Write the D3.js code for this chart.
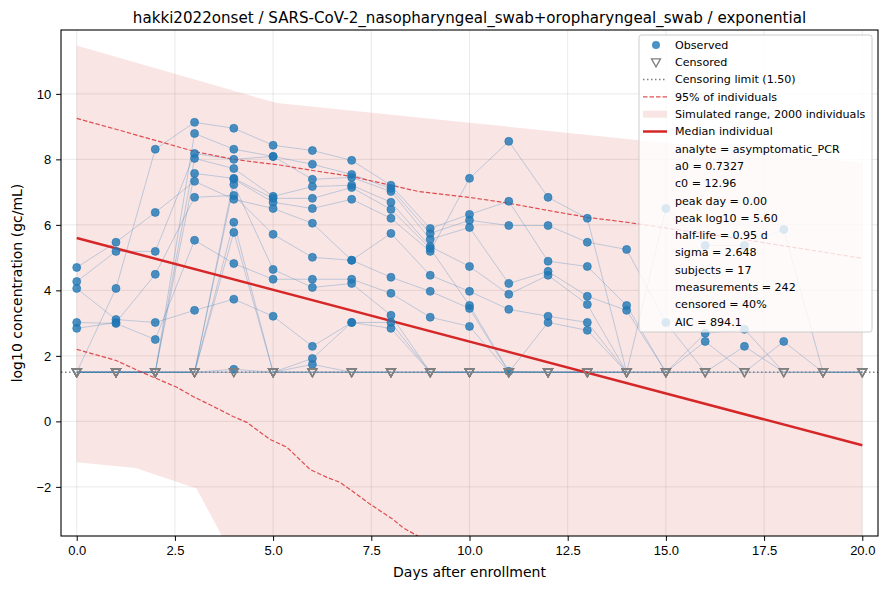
<!DOCTYPE html>
<html>
<head>
<meta charset="utf-8">
<script src="https://cdn.jsdelivr.net/npm/d3@7"></script>
<style>
  body { margin: 0; background: #fff; }
  svg { font-family: "DejaVu Sans", sans-serif; }
  .axis text { font-size: 13px; fill: #000; }
  .axis path, .axis line { stroke: #000; }
</style>
</head>
<body>
<svg id="chart"></svg>
<script>
/***** Données *****/
var chartTitle = "hakki2022onset / SARS-CoV-2_nasopharyngeal_swab+oropharyngeal_swab / exponential";
var xLabel = "Days after enrollment";
var yLabel = "log10 concentration (gc/mL)";

var days = [0, 1, 2, 3, 4, 5, 6, 7, 8, 9, 10, 11, 12, 13, 14, 15, 16, 17, 18, 19, 20];
var xTicks = [0, 2.5, 5, 7.5, 10, 12.5, 15, 17.5, 20];
var yTicks = [-2, 0, 2, 4, 6, 8, 10];
var censoringLimit = 1.5;

// c = censored (< limite), _ = pas de mesure
var c = "censored", _ = null;
var subjects = [
  [4.70, 5.47, 6.38, 7.33, 6.78, 6.50, 6.05, 4.92, 5.74, 4.46, 3.97, 3.42, 3.21, 3.02, c, c, c, _, _, _, _],
  [4.27, 5.19, 5.19, 8.18, 8.00, 8.09, 7.39, 7.45, 7.02, 5.56, 5.92, 4.21, 4.58, 3.82, 3.39, c, 2.44, c, 2.44, c, c],
  [4.06, 3.11, 3.02, 3.39, 3.73, 3.21, 2.29, 3.02, 2.84, c, c, c, c, c, _, _, _, _, _, _, _],
  [3.02, 2.99, 2.50, 5.53, 4.82, 4.34, 4.34, 4.34, 3.91, 3.18, 2.90, c, c, c, c, _, _, _, _, _, _],
  [2.84, 3.02, 4.49, 6.84, 6.90, 5.71, 5.01, 4.92, 4.40, 3.97, 3.45, c, 3.02, 2.78, c, c, _, _, _, _, _],
  [c, 4.06, 8.31, 9.13, 8.95, 8.43, 8.27, 7.97, 7.21, 5.89, 6.32, 6.72, 4.89, 4.73, 3.54, c, 2.69, 2.81, c, c, c],
  [c, c, c, 8.79, 8.31, 8.09, 7.85, 7.54, 7.11, 5.74, 6.14, 5.98, 5.98, 5.47, 5.25, 3.02, c, 2.29, c, c, c],
  [c, c, c, 8.03, 7.72, 6.87, 7.17, 7.21, 6.69, 5.34, 4.73, 3.88, 4.46, 3.57, c, c, c, c, _, _, _],
  [c, c, c, 7.57, 7.42, 6.81, 6.81, 7.14, 6.47, 5.28, 3.54, 1.53, c, c, c, _, _, _, _, _, _],
  [c, c, c, c, 7.39, 6.69, 6.50, 6.78, 6.20, 5.19, 7.42, 8.55, 6.84, 6.20, c, 6.50, 5.37, 5.37, 5.86, c, c],
  [c, c, c, c, 7.23, 4.64, 4.09, 4.21, 3.24, c, c, c, c, c, _, _, _, _, _, _, _],
  [c, c, c, c, 6.08, c, 1.92, 3.02, 3.02, c, c, c, c, c, c, _, _, _, _, _, _],
  [c, c, c, c, 5.77, c, 1.74, c, c, c, c, c, _, _, _, _, _, _, _, _, _],
  [c, c, c, c, 1.59, c, c, c, c, c, c, c, c, c, c, _, _, _, _, _, _],
  [c, c, c, c, c, c, c, c, c, c, c, _, _, _, _, _, _, _, _, _, _],
  [_, _, _, _, _, c, c, c, c, c, c, c, c, c, c, c, c, c, c, c, c],
  [c, c, c, c, c, c, c, c, c, _, _, _, _, _, _, _, _, _, _, _, _]
];

// Enveloppe simulée (2000 individus)
var bandDays = [0, 1.5, 3.05, 4.5, 5.1, 10, 15, 20];
var bandUpper = [11.48, 10.96, 10.42, 9.92, 9.72, 9.12, 8.50, 7.90];
var bandLower = [-1.25, -1.42, -2.05, -5.3, -6.0, -8.0, -9.0, -10.0];

// 95 % des individus
var upperDays = [0, 1, 2, 3, 4, 5.2, 6, 7, 8, 8.7, 10, 11, 12, 13, 14, 17, 20];
var upperValues = [9.25, 8.92, 8.58, 8.24, 8.00, 7.82, 7.66, 7.48, 7.21, 7.02, 6.84, 6.66, 6.44, 6.23, 6.08, 5.55, 4.98];
var lowerDays = [0, 1, 1.6, 2.55, 2.96, 3.47, 3.98, 4.33, 4.92, 5.35, 5.94, 6.37, 6.7, 7.03, 7.47, 8.05, 8.3, 8.68, 9.5, 12];
var lowerValues = [2.20, 1.86, 1.53, 1.04, 0.76, 0.46, 0.15, -0.03, -0.55, -0.79, -1.47, -1.71, -1.86, -2.14, -2.53, -2.99, -3.24, -3.50, -3.9, -5.0];

// Individu médian
var medianDays = [0, 20];
var medianValues = [5.60, -0.73];

var legendLabels = ["Observed", "Censored", "Censoring limit (1.50)", "95% of individuals",
  "Simulated range, 2000 individuals", "Median individual"];
var statLines = ["analyte = asymptomatic_PCR", "a0 = 0.7327", "c0 = 12.96", "peak day = 0.00",
  "peak log10 = 5.60", "half-life = 0.95 d", "sigma = 2.648", "subjects = 17",
  "measurements = 242", "censored = 40%", "AIC = 894.1"];

/***** Configuration *****/
var width = 887, height = 590;
var margin = { top: 30, right: 9, bottom: 54, left: 61 };
var plotWidth = width - margin.left - margin.right;
var plotHeight = height - margin.top - margin.bottom;

var x = d3.scaleLinear().domain([-0.4, 20.4]).range([0, plotWidth]);
var y = d3.scaleLinear().domain([-3.5, 11.95]).range([plotHeight, 0]);

var red = "#d62728", blue = "#1f77b4", gray = "#808080";

var svg = d3.select("#chart").attr("width", width).attr("height", height);

svg.append("text")
  .attr("x", margin.left + plotWidth / 2)
  .attr("y", 22.5)
  .attr("text-anchor", "middle")
  .style("font-size", "15.1px")
  .text(chartTitle);

var g = svg.append("g")
  .attr("transform", "translate(" + margin.left + "," + margin.top + ")");

g.append("clipPath").attr("id", "clip")
  .append("rect").attr("width", plotWidth).attr("height", plotHeight);

/***** Grille *****/
var grid = g.append("g");
grid.selectAll(".gx").data(xTicks).enter().append("line")
  .attr("x1", x).attr("x2", x).attr("y1", 0).attr("y2", plotHeight)
  .attr("stroke", "#b0b0b0").attr("stroke-opacity", 0.35).attr("stroke-width", 0.8);
grid.selectAll(".gy").data(yTicks).enter().append("line")
  .attr("y1", y).attr("y2", y).attr("x1", 0).attr("x2", plotWidth)
  .attr("stroke", "#b0b0b0").attr("stroke-opacity", 0.35).attr("stroke-width", 0.8);

var plot = g.append("g").attr("clip-path", "url(#clip)");

/***** Bande simulée *****/
var bandData = bandDays.map(function (d, i) { return [d, bandLower[i], bandUpper[i]]; });
plot.append("path")
  .datum(bandData)
  .attr("fill", red).attr("fill-opacity", 0.12)
  .attr("d", d3.area()
    .x(function (d) { return x(d[0]); })
    .y0(function (d) { return y(d[1]); })
    .y1(function (d) { return y(d[2]); }));

/***** Trajectoires des sujets *****/
function toPoints(values) {
  var pts = [];
  values.forEach(function (v, i) {
    if (v === null) return;
    pts.push({ day: days[i], value: v === c ? censoringLimit : v, censored: v === c });
  });
  return pts;
}
var subjectPoints = subjects.map(toPoints);

var line = d3.line()
  .x(function (d) { return x(d.day); })
  .y(function (d) { return y(d.value); });

plot.selectAll(".subject").data(subjectPoints).enter().append("path")
  .attr("fill", "none")
  .attr("stroke", blue).attr("stroke-opacity", 0.28).attr("stroke-width", 1)
  .attr("d", line);

/***** Limite de censure *****/
plot.append("line")
  .attr("x1", 0).attr("x2", plotWidth)
  .attr("y1", y(censoringLimit)).attr("y2", y(censoringLimit))
  .attr("stroke", gray).attr("stroke-width", 1.5).attr("stroke-dasharray", "1.5,2.5");

/***** 95 % et médiane *****/
function xyLine(xs, ys) {
  return d3.line()(xs.map(function (d, i) { return [x(d), y(ys[i])]; }));
}
plot.append("path").attr("d", xyLine(upperDays, upperValues))
  .attr("fill", "none").attr("stroke", red).attr("stroke-opacity", 0.8)
  .attr("stroke-width", 1.2).attr("stroke-dasharray", "4.5,2");
plot.append("path").attr("d", xyLine(lowerDays, lowerValues))
  .attr("fill", "none").attr("stroke", red).attr("stroke-opacity", 0.8)
  .attr("stroke-width", 1.2).attr("stroke-dasharray", "4.5,2");
plot.append("path").attr("d", xyLine(medianDays, medianValues))
  .attr("fill", "none").attr("stroke", red).attr("stroke-width", 2.5);

/***** Points *****/
var allPoints = [].concat.apply([], subjectPoints);
var triangle = "M-4.5,-3.5L4.5,-3.5L0,4.5Z";

plot.selectAll(".obs").data(allPoints.filter(function (d) { return !d.censored; }))
  .enter().append("circle")
  .attr("cx", function (d) { return x(d.day); })
  .attr("cy", function (d) { return y(d.value); })
  .attr("r", 4)
  .attr("fill", blue).attr("fill-opacity", 0.8)
  .attr("stroke", blue).attr("stroke-opacity", 0.8).attr("stroke-width", 0.8);

plot.selectAll(".cens").data(allPoints.filter(function (d) { return d.censored; }))
  .enter().append("path")
  .attr("transform", function (d) { return "translate(" + x(d.day) + "," + y(d.value) + ")"; })
  .attr("d", triangle)
  .attr("fill", "none").attr("stroke", gray).attr("stroke-width", 1.3);

/***** Axes *****/
var fmtY = function (d) { return d < 0 ? "\u2212" + Math.abs(d) : d; };
g.append("g").attr("class", "axis")
  .attr("transform", "translate(0," + plotHeight + ")")
  .call(d3.axisBottom(x).tickValues(xTicks).tickFormat(d3.format(".1f")).tickSizeOuter(0).tickSize(4.9).tickPadding(4.9));
g.append("g").attr("class", "axis")
  .call(d3.axisLeft(y).tickValues(yTicks).tickFormat(fmtY).tickSizeOuter(0).tickSize(4.9).tickPadding(4.9));
g.selectAll(".axis .domain").remove();
g.append("rect").attr("width", plotWidth).attr("height", plotHeight)
  .attr("fill", "none").attr("stroke", "#000").attr("stroke-width", 1.1);

svg.append("text")
  .attr("x", margin.left + plotWidth / 2).attr("y", 577)
  .attr("text-anchor", "middle").style("font-size", "14px")
  .text(xLabel);
svg.append("text")
  .attr("transform", "translate(22," + (margin.top + plotHeight / 2) + ") rotate(-90)")
  .attr("text-anchor", "middle").style("font-size", "14px")
  .text(yLabel);

/***** Légende *****/
var legend = svg.append("g").attr("transform", "translate(639,35)");
var rowH = 17.3, firstY = 10;
legend.append("rect")
  .attr("width", 233).attr("height", 297).attr("rx", 2.5)
  .attr("fill", "#fff").attr("fill-opacity", 0.8)
  .attr("stroke", "#cccccc").attr("stroke-width", 1);

var allRows = legendLabels.concat(statLines);
legend.selectAll(".lab").data(allRows).enter().append("text")
  .attr("x", 36)
  .attr("y", function (d, i) { return firstY + i * rowH; })
  .attr("dy", "0.35em")
  .style("font-size", "11.1px")
  .text(function (d) { return d; });

var hx0 = 4, hx1 = 28, hxm = 17;
legend.append("circle").attr("cx", hxm).attr("cy", firstY).attr("r", 4)
  .attr("fill", blue).attr("fill-opacity", 0.8);
legend.append("path").attr("d", triangle)
  .attr("transform", "translate(" + hxm + "," + (firstY + rowH) + ")")
  .attr("fill", "none").attr("stroke", gray).attr("stroke-width", 1.3);
legend.append("line").attr("x1", hx0).attr("x2", hx1)
  .attr("y1", firstY + 2 * rowH).attr("y2", firstY + 2 * rowH)
  .attr("stroke", gray).attr("stroke-width", 1.5).attr("stroke-dasharray", "1.5,2.5");
legend.append("line").attr("x1", hx0).attr("x2", hx1)
  .attr("y1", firstY + 3 * rowH).attr("y2", firstY + 3 * rowH)
  .attr("stroke", red).attr("stroke-opacity", 0.8).attr("stroke-width", 1.2).attr("stroke-dasharray", "4.5,2");
legend.append("rect").attr("x", hx0).attr("width", hx1 - hx0)
  .attr("y", firstY + 4 * rowH - 3.5).attr("height", 7)
  .attr("fill", red).attr("fill-opacity", 0.12);
legend.append("line").attr("x1", hx0).attr("x2", hx1)
  .attr("y1", firstY + 5 * rowH).attr("y2", firstY + 5 * rowH)
  .attr("stroke", red).attr("stroke-width", 2.5);
</script>
</body>
</html>
